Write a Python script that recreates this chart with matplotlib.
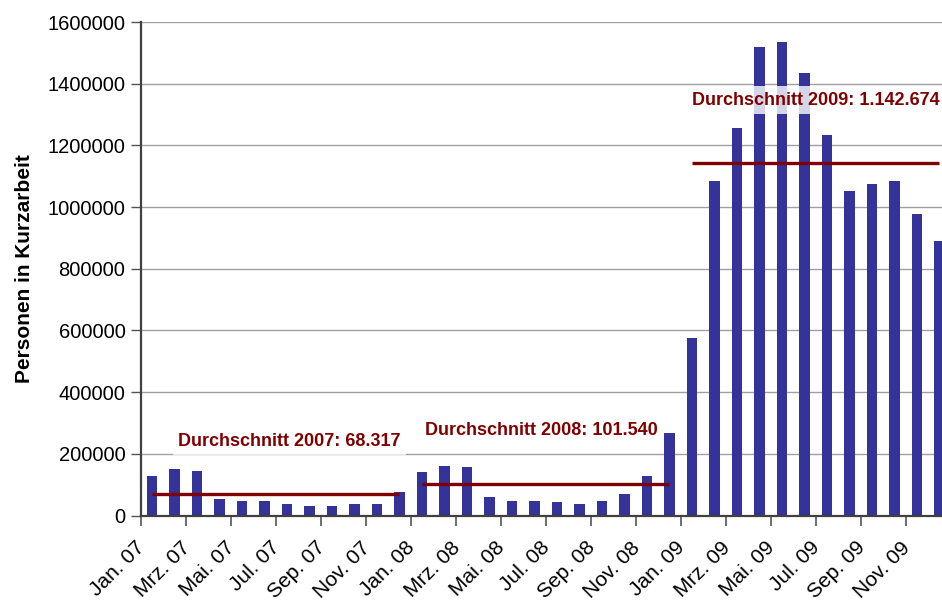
import matplotlib
matplotlib.use("Agg")
import matplotlib.pyplot as plt
import matplotlib.transforms as mtransforms
import numpy as np

plt.rcParams['font.family'] = ['Liberation Sans', 'DejaVu Sans']

months = ["Jan. 07", "Feb. 07", "Mrz. 07", "Apr. 07", "Mai. 07", "Jun. 07",
          "Jul. 07", "Aug. 07", "Sep. 07", "Okt. 07", "Nov. 07", "Dez. 07",
          "Jan. 08", "Feb. 08", "Mrz. 08", "Apr. 08", "Mai. 08", "Jun. 08",
          "Jul. 08", "Aug. 08", "Sep. 08", "Okt. 08", "Nov. 08", "Dez. 08",
          "Jan. 09", "Feb. 09", "Mrz. 09", "Apr. 09", "Mai. 09", "Jun. 09",
          "Jul. 09", "Aug. 09", "Sep. 09", "Okt. 09", "Nov. 09", "Dez. 09"]

values = [126600, 149300, 142800, 52000, 45400, 45400,
          35700, 29200, 29200, 35700, 35700, 74600,
          139500, 159000, 155800, 58400, 45400, 45400,
          42200, 35700, 45400, 68100, 126600, 266000,
          574000, 1084000, 1256000, 1519000, 1535000, 1434000,
          1233000, 1051000, 1074000, 1084000, 977000, 889000]

avg_years = ["2007", "2008", "2009"]
avg_values = [68317, 101540, 1142674]
avg_labels = ["Durchschnitt 2007: 68.317",
              "Durchschnitt 2008: 101.540",
              "Durchschnitt 2009: 1.142.674"]

bar_color = "#333399"
line_color = "#800000"

fig = plt.figure(figsize=(9.42, 6.03), dpi=100)
ax = fig.add_axes([140.7 / 942, (603 - 515.5) / 603, 810 / 942, 493.5 / 603])

x = np.arange(len(months))
ax.bar(x, values, width=0.46, color=bar_color, zorder=2)

ax.set_xlim(-0.5, len(months) - 0.5)
ax.set_ylim(0, 1600000)
ax.set_yticks(np.arange(0, 1600001, 200000))
ax.set_yticklabels([str(v) for v in range(0, 1600001, 200000)], fontsize=14.5)
ax.yaxis.grid(True, color="#a0a0a0", linewidth=1.0, zorder=0)
ax.set_axisbelow(True)

# x ticks: labels at every second month center, marks at boundaries
ax.set_xticks(x[::2])
ax.set_xticklabels(months[::2], rotation=45, ha="right", va="center",
                   rotation_mode="anchor", fontsize=15)
ax.tick_params(axis="x", which="major", length=0, pad=21)
shift = mtransforms.ScaledTranslation(-10 / 100, 0, fig.dpi_scale_trans)
for lbl in ax.get_xticklabels():
    lbl.set_transform(lbl.get_transform() + shift)
ax.set_xticks(np.arange(-0.5, len(months), 2), minor=True)
ax.tick_params(axis="x", which="minor", length=7, width=1.2, color="#555555")
ax.tick_params(axis="y", length=7, width=1.0, color="#555555", pad=4)

for s in ["top", "right"]:
    ax.spines[s].set_visible(False)
for s in ["left", "bottom"]:
    ax.spines[s].set_color("#404040")
    ax.spines[s].set_linewidth(1.6)

ax.set_ylabel("Personen in Kurzarbeit", fontsize=15, fontweight="bold", labelpad=10)

# average lines
for i, (yr, av) in enumerate(zip(avg_years, avg_values)):
    x0 = i * 12
    x1 = i * 12 + 11
    ax.plot([x0, x1], [av, av], color=line_color, linewidth=2.4, zorder=3,
            solid_capstyle="butt")

label_pos = [(6.11, 241500), (17.32, 275000), (29.5, 1347000)]
for (lx, ly), txt in zip(label_pos, avg_labels):
    ax.text(lx, ly, txt, color=line_color, fontsize=13, fontweight="bold",
            ha="center", va="center", zorder=4,
            bbox=dict(facecolor="white", edgecolor="none", alpha=0.8, pad=4))

fig.savefig("out.png", dpi=100)
